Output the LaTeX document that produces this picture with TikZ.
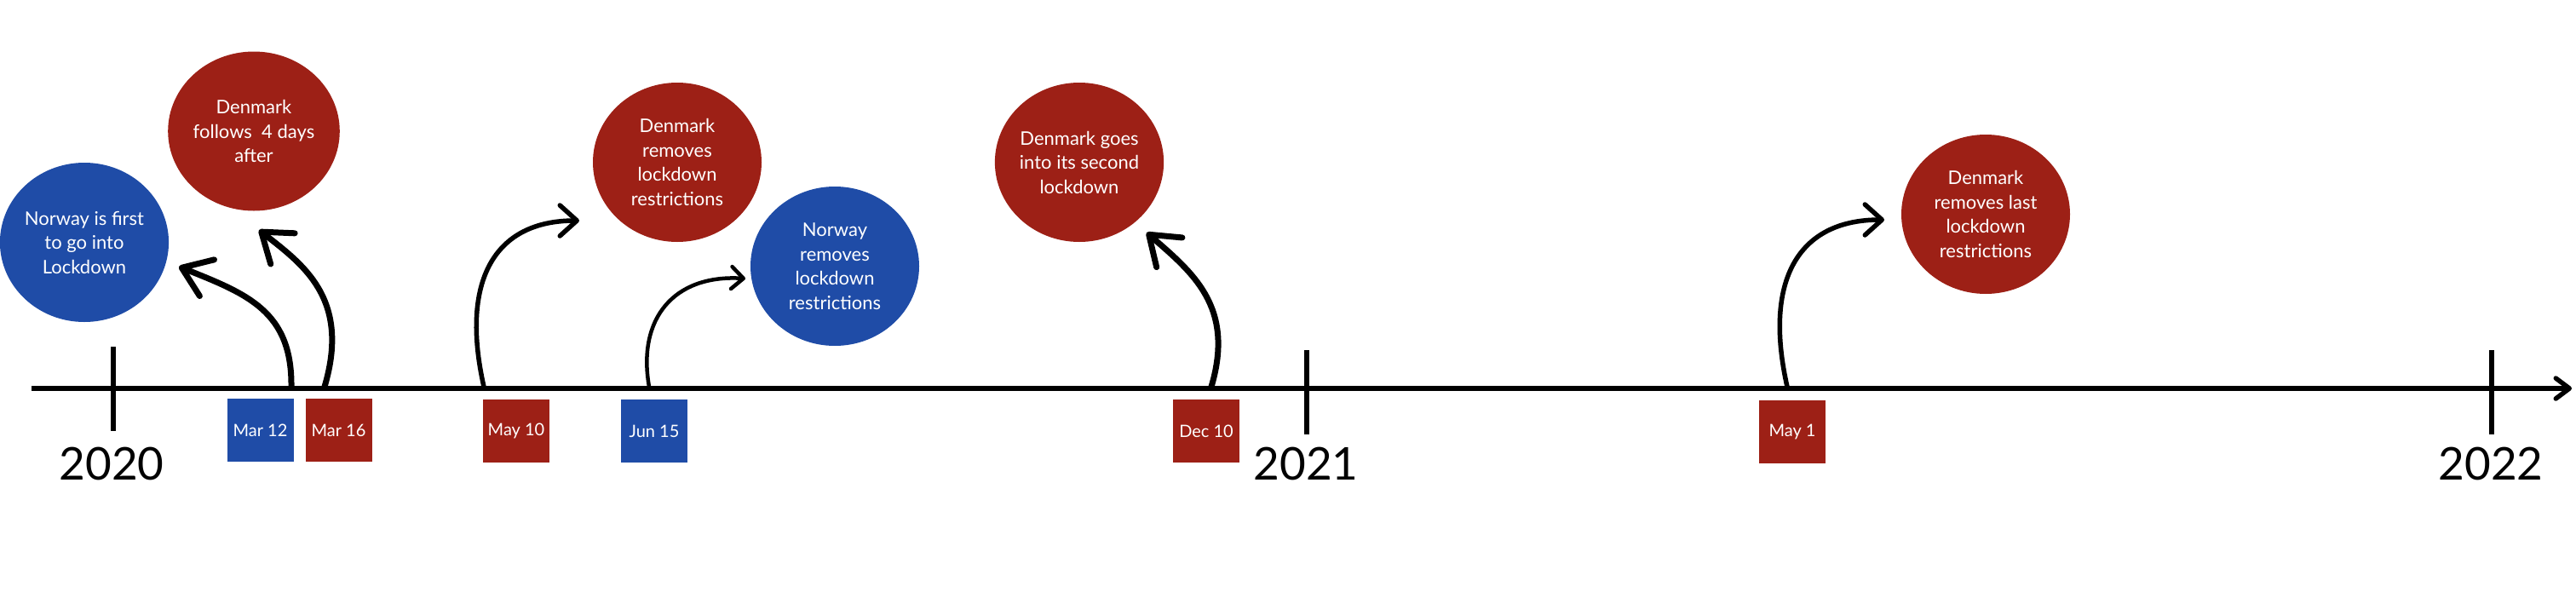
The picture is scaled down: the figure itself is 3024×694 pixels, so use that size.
\documentclass[tikz,border=0pt]{standalone}
\usepackage{fontspec}
\setmainfont{Lato}
\usepackage{tikz}
\usetikzlibrary{arrows.meta,shapes.geometric}
\definecolor{dkRed}{HTML}{9D2016}
\definecolor{noBlue}{HTML}{1F4CA7}
\tikzset{
  bubble/.style={ellipse,minimum width=198pt,minimum height=187pt,inner sep=0pt,
    text=white,align=center,font=\fontsize{22}{28.5}\selectfont},
  datebox/.style={minimum width=78pt,minimum height=74pt,inner sep=0pt,
    text=white,font=\fontsize{20}{20}\selectfont},
  yearlabel/.style={font=\fontsize{53}{53}\selectfont},
  axisline/.style={line width=5.5pt,-{Straight Barb[round,length=16pt,width=24pt]}},
  tickline/.style={line width=6pt},
  bigarrow/.style={line width=7pt,line cap=round,-{Straight Barb[round,length=32pt,width=46pt]}},
  midarrow/.style={line width=5.5pt,line cap=round,-{Straight Barb[round,length=20pt,width=36pt]}},
  smallarrow/.style={line width=4.5pt,line cap=round,-{Straight Barb[round,length=14pt,width=26pt]}}
}

\begin{document}
\begin{tikzpicture}[x=1pt,y=-1pt]
  \useasboundingbox (0,0) rectangle (3024,694);

  % time axis and years
  \coordinate (axstart) at (37,456);
  \coordinate (axend) at (3019,456);
  \draw[axisline] (axstart) -- (axend);
  \draw[tickline] (133,407) -- (133,506);
  \draw[tickline] (1534,411) -- (1534,510);
  \draw[tickline] (2925,411) -- (2925,510);
  \node[yearlabel] (y2020) at (131,544) {2020};
  \node[yearlabel] (y2021) at (1533,544) {2021};
  \node[yearlabel] (y2022) at (2924,544) {2022};

  % dates
  \node[datebox,fill=noBlue] (mar12) at (305.5,505) {Mar 12};
  \node[datebox,fill=dkRed] (mar16) at (397.5,505) {Mar 16};
  \node[datebox,fill=dkRed] (may10) at (606,506) {May 10};
  \node[datebox,fill=noBlue] (jun15) at (768,506) {Jun 15};
  \node[datebox,fill=dkRed] (dec10) at (1416,506) {Dec 10};
  \node[datebox,fill=dkRed] (may1) at (2104,507) {May 1};

  % events
  \node[bubble,fill=noBlue] (nofirst) at (99,284.5) {Norway is first\\to go into\\Lockdown};
  \node[bubble,fill=dkRed] (dkfollow) at (298,154) {Denmark\\follows~ 4 days\\after};
  \node[bubble,fill=dkRed] (dkopen) at (795,190.5) {Denmark\\removes\\lockdown\\restrictions};
  \node[bubble,fill=noBlue] (noopen) at (980,312.5) {Norway\\removes\\lockdown\\restrictions};
  \node[bubble,fill=dkRed] (dksecond) at (1267,190.5) {Denmark goes\\into its second\\lockdown};
  \node[bubble,fill=dkRed] (dklast) at (2331,251.5) {Denmark\\removes last\\lockdown\\restrictions};

  % arrows from the axis
  \coordinate (mar12-up) at (342,454);
  \coordinate (mar16-up) at (381,454);
  \coordinate (may10-up) at (568,454);
  \coordinate (jun15-up) at (762,454);
  \coordinate (dec10-up) at (1422,454);
  \coordinate (may1-up) at (2098,454);
  \coordinate (nofirst-in) at (210,313);
  \coordinate (dkfollow-in) at (304,270);
  \coordinate (dkopen-in) at (680,259);
  \coordinate (noopen-in) at (875,327);
  \coordinate (dksecond-in) at (1346,273);
  \coordinate (dklast-in) at (2212,258);
  \draw[bigarrow] (mar12-up) .. controls (343,365) and (290,345) .. (nofirst-in);
  \draw[bigarrow] (mar16-up) .. controls (412,350) and (355,310) .. (dkfollow-in);
  \draw[midarrow] (may10-up) .. controls (540,330) and (580,259) .. (dkopen-in);
  \draw[smallarrow] (jun15-up) .. controls (748,375) and (790,322) .. (noopen-in);
  \draw[bigarrow] (dec10-up) .. controls (1450,360) and (1400,320) .. (dksecond-in);
  \draw[midarrow] (may1-up) .. controls (2070,330) and (2110,258) .. (dklast-in);
\end{tikzpicture}
\end{document}
